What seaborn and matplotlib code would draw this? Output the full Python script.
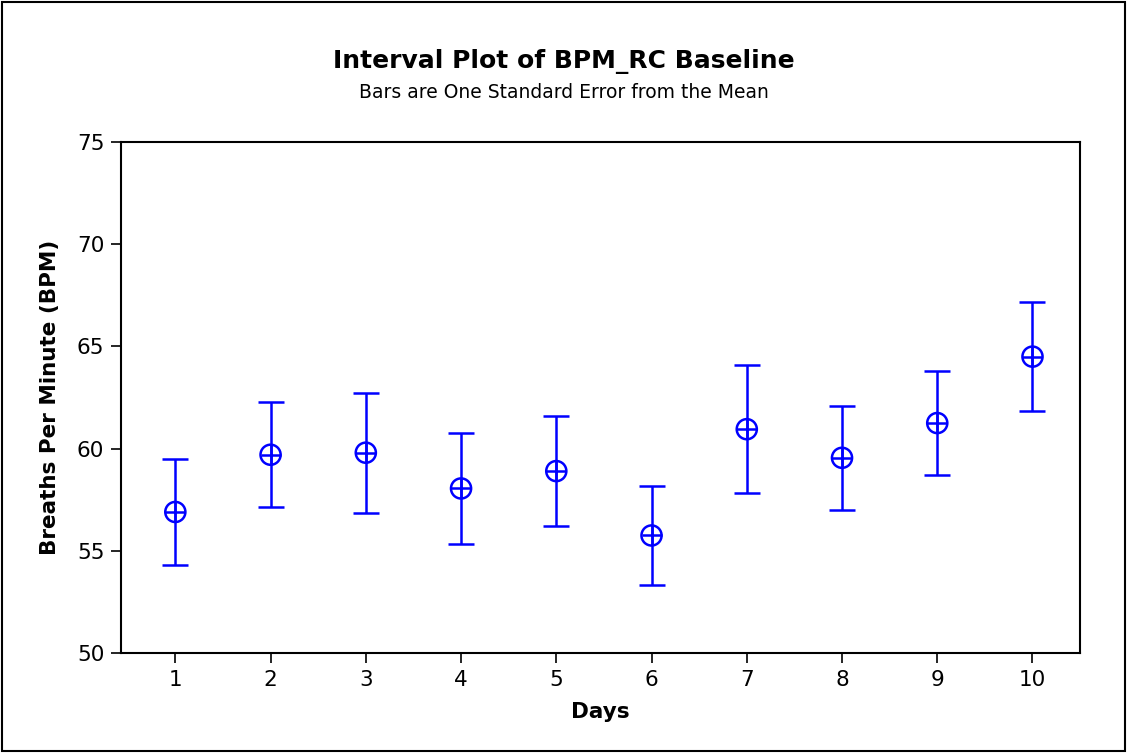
import matplotlib
matplotlib.use("Agg")
import matplotlib.pyplot as plt
import matplotlib.patches as mpatches
import seaborn as sns
import pandas as pd
import numpy as np

days = [1, 2, 3, 4, 5, 6, 7, 8, 9, 10]
means = [56.9, 59.7, 59.8, 58.05, 58.9, 55.75, 60.95, 59.55, 61.25, 64.5]
se = [2.6, 2.58, 2.93, 2.72, 2.68, 2.4, 3.12, 2.55, 2.54, 2.66]
yticks = [50, 55, 60, 65, 70, 75]

sns.set_theme(style="ticks")
plt.rcParams['font.family'] = ['DejaVu Sans']
plt.rcParams['text.color'] = 'black'
plt.rcParams['axes.labelcolor'] = 'black'

df = pd.DataFrame({"Days": days, "BPM": means, "SE": se})

fig = plt.figure(figsize=(11.27, 7.53), dpi=100)
ax = fig.add_axes([0.1074, 0.1328, 0.851, 0.6786])

blue = "#0000FF"
ax.errorbar(df["Days"], df["BPM"], yerr=df["SE"], fmt="none", ecolor=blue,
            elinewidth=1.8, capsize=9.5, capthick=1.8, zorder=2)
sns.scatterplot(data=df, x="Days", y="BPM", ax=ax, marker="o", s=210,
                facecolor="none", edgecolor=blue, linewidth=1.8, zorder=3)
sns.scatterplot(data=df, x="Days", y="BPM", ax=ax, marker="+", s=210,
                color=blue, linewidth=1.8, zorder=3)

ax.set_xlim(0.43, 10.5)
ax.set_ylim(50, 75)
ax.set_xticks(days)
ax.set_yticks(yticks)
ax.tick_params(axis="both", direction="out", length=7, width=1.2, labelsize=15.5,
               colors="black", pad=5)
for s in ax.spines.values():
    s.set_color("black")
    s.set_linewidth(1.5)
    s.set_visible(True)

ax.set_xlabel("Days", fontsize=15.5, fontweight="bold", labelpad=9, color="black")
ax.set_ylabel("Breaths Per Minute (BPM)", fontsize=15.5, fontweight="bold",
              labelpad=12, color="black")

fig.text(0.5, 0.918, "Interval Plot of BPM_RC Baseline", ha="center", va="center",
         fontsize=18, fontweight="bold", color="black")
fig.text(0.5, 0.877, "Bars are One Standard Error from the Mean", ha="center",
         va="center", fontsize=13.5, color="black")

border = mpatches.Rectangle((0.002, 0.002), 0.996, 0.995, transform=fig.transFigure,
                            fill=False, edgecolor="black", linewidth=1.5)
fig.patches.append(border)

fig.savefig("out.png", dpi=100)
